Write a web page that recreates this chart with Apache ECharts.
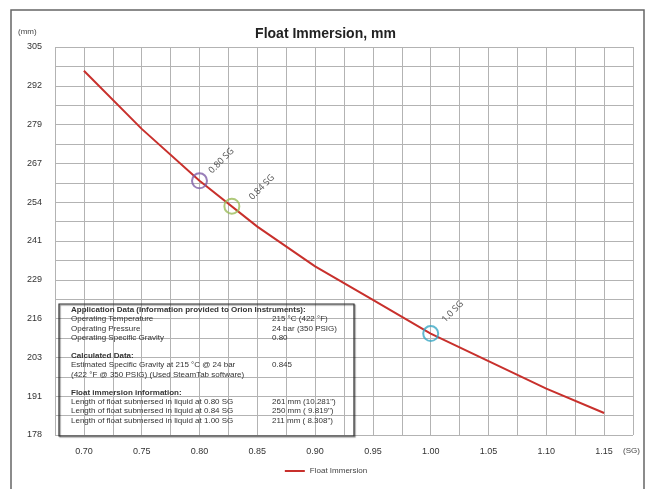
<!DOCTYPE html>
<html>
<head>
<meta charset="utf-8">
<script src="https://cdn.jsdelivr.net/npm/echarts@6/dist/echarts.min.js"></script>
<style>html,body{margin:0;padding:0;background:#fff;}#c{width:651px;height:489px;}</style>
</head>
<body>
<div id="c"></div>
<script>
// Specific gravity (x) and float immersion in mm (y)
const sg = [0.70, 0.75, 0.80, 0.85, 0.90, 0.95, 1.00, 1.05, 1.10, 1.15];
const immersion = [297, 278, 261, 246, 233, 222, 211, 202, 193, 185];
// Marked operating points
const markSG = [0.80, 0.828, 1.00];
const markMM = [261, 252.7, 211];
const markLabels = ['0.80 SG', '0.84 SG', '1.0 SG'];
const markColors = ['#7f5fa8', '#9bbb59', '#3aa8c4'];
// Axis ticks
const xMin = 0.675, xMax = 1.175, xStep = 0.025;
const yMin = 177.8, yMax = 304.8, yStep = 6.35;
// Info box text
const boxLeft = [
  ['Application Data (Information provided to Orion Instruments):', true],
  ['Operating Temperature', false],
  ['Operating Pressure', false],
  ['Operating Specific Gravity', false],
  ['', false],
  ['Calculated Data:', true],
  ['Estimated Specific Gravity at 215 °C @ 24 bar', false],
  ['(422 °F @ 350 PSIG) (Used SteamTab software)', false],
  ['', false],
  ['Float immersion information:', true],
  ['Length of float submersed in liquid at 0.80 SG', false],
  ['Length of float submersed in liquid at 0.84 SG', false],
  ['Length of float submersed in liquid at 1.00 SG', false]
];
const boxRight = ['', '215 °C (422 °F)', '24 bar (350 PSIG)', '0.80', '', '', '0.845', '', '', '', '261 mm (10.281")', '250 mm ( 9.819")', '211 mm ( 8.308")'];

const FF = '"Liberation Sans", Arial, sans-serif';
const chart = echarts.init(document.getElementById('c'));

const boxGraphics = [];
boxLeft.forEach((r, i) => {
  const y = 311 + i * 9.2;
  if (r[0]) boxGraphics.push({type: 'text', left: 71, top: y - 5, silent: true,
    style: {text: r[0], fontFamily: FF, fontSize: 8, fontWeight: r[1] ? 'bold' : 'normal', fill: '#333'}});
  if (boxRight[i]) boxGraphics.push({type: 'text', left: 272, top: y - 5, silent: true,
    style: {text: boxRight[i], fontFamily: FF, fontSize: 8, fill: '#333'}});
});

// label offsets are applied in the rotated frame
const markOffsets = [[29.7, 1.4], [34.6, 7.8], [31.1, 0]];

chart.setOption({
  animation: false,
  backgroundColor: '#fff',
  title: {text: 'Float Immersion, mm', left: 'center', top: 22,
    textStyle: {fontFamily: FF, fontSize: 14, fontWeight: 'bold', color: '#222'}},
  legend: {bottom: 9, left: 'center', itemWidth: 20, itemHeight: 2, data: ['Float Immersion'],
    textStyle: {fontFamily: FF, fontSize: 8, color: '#444'}},
  grid: {left: 55, right: 18, top: 47, bottom: 54},
  xAxis: {type: 'value', min: xMin, max: xMax, interval: xStep,
    axisLine: {show: false}, axisTick: {show: false},
    splitLine: {show: true, lineStyle: {color: '#b3b3b3', width: 1}},
    axisLabel: {margin: 12, fontFamily: FF, fontSize: 9, color: '#333',
      formatter: v => { const k = Math.round(v * 1000); return (k % 50 === 0 && k > 675 && k < 1175) ? (k / 1000).toFixed(2) : ''; }}},
  yAxis: {type: 'value', min: yMin, max: yMax, interval: yStep,
    axisLine: {show: false}, axisTick: {show: false},
    splitLine: {show: true, lineStyle: {color: '#b3b3b3', width: 1}},
    axisLabel: {margin: 13, fontFamily: FF, fontSize: 9, color: '#333',
      formatter: v => { const k = Math.round((v - yMin) / yStep); return k % 2 === 0 ? String(Math.round(v)) : ''; }}},
  series: [
    {name: 'Float Immersion', type: 'line', data: sg.map((x, i) => [x, immersion[i]]),
      symbol: 'none', lineStyle: {color: '#c8302c', width: 2}, itemStyle: {color: '#c8302c'}, z: 3},
    {name: 'marks', type: 'scatter', symbol: 'circle', symbolSize: 15, z: 4,
      data: markSG.map((x, i) => ({value: [x, markMM[i]],
        itemStyle: {color: 'rgba(0,0,0,0)', borderColor: markColors[i], borderWidth: 2},
        label: {show: true, formatter: markLabels[i], position: 'inside', rotate: 45,
          offset: markOffsets[i], fontFamily: '"Open Sans", "Liberation Sans", sans-serif', fontSize: 9, color: '#222'}}))}
  ],
  graphic: [
    {type: 'rect', shape: {x: 11, y: 10, width: 633, height: 500}, silent: true,
      style: {fill: 'none', stroke: '#666', lineWidth: 1.5}, z: 0},
    {type: 'text', left: 18, top: 28, silent: true,
      style: {text: '(mm)', fontFamily: FF, fontSize: 8, fill: '#444'}},
    {type: 'text', left: 623, top: 447, silent: true,
      style: {text: '(SG)', fontFamily: FF, fontSize: 8, fill: '#444'}},
    {type: 'rect', shape: {x: 59, y: 304, width: 295, height: 132}, silent: true,
      style: {fill: 'none', stroke: '#333', lineWidth: 1.2, shadowColor: 'rgba(0,0,0,0.5)', shadowOffsetX: 1, shadowOffsetY: 1, shadowBlur: 1}, z: 10},
    ...boxGraphics.map(g => Object.assign(g, {z: 11}))
  ]
});
</script>
</body>
</html>
